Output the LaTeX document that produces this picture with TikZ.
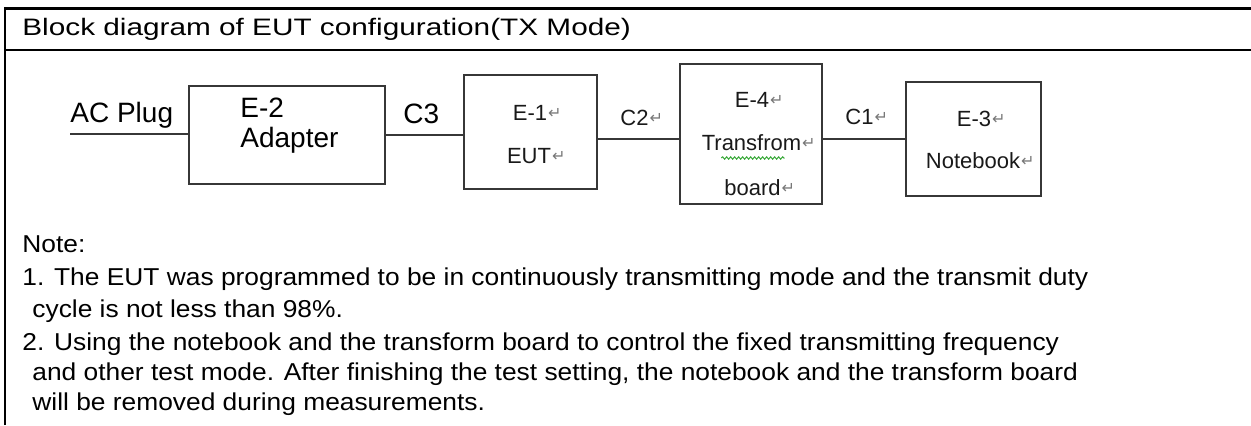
\documentclass[tikz,border=0pt]{standalone}
\usepackage{fontspec}
\setmainfont{Liberation Sans}
\newfontfamily\titlefont[FakeStretch=1.25]{Liberation Sans}
\newfontfamily\notefont[FakeStretch=1.08]{Liberation Sans}
\newfontfamily\markfont{DejaVu Sans}
\usepackage{xcolor}
\definecolor{boxline}{RGB}{55,55,55}
\definecolor{markgray}{RGB}{120,120,120}
\definecolor{squig}{RGB}{60,170,60}
\usepackage{tikz}
\usetikzlibrary{calc,positioning,decorations.pathmorphing}
\newcommand{\retmark}{\rlap{\hspace{0.5pt}\raisebox{1pt}{\markfont\fontsize{8}{8}\selectfont\textcolor{markgray}{↵}}}}
\tikzset{
  frame/.style={draw=black, line width=1.35pt},
  unit/.style={rectangle, draw=boxline, line width=0.6pt, inner sep=0pt},
  cable/.style={draw=boxline, line width=0.6pt},
  titletext/.style={inner sep=0pt, anchor=base west, font=\titlefont\fontsize{11.9}{11.9}\selectfont},
  bigtext/.style={inner sep=0pt, anchor=base west, font=\fontsize{14}{14}\selectfont},
  smalltext/.style={inner sep=0pt, anchor=base, text=black!90, font=\fontsize{11}{11}\selectfont},
  notetext/.style={inner sep=0pt, anchor=base west, font=\notefont\fontsize{12.2}{12.2}\selectfont},
  squiggle/.style={draw=squig, line width=0.5pt, decorate, decoration={snake, segment length=2pt, amplitude=0.6pt}},
}
\begin{document}
\begin{tikzpicture}[x=0.5pt, y=-0.5pt]
  \useasboundingbox (0,0) rectangle (1251,425);
  % frame and header
  \draw[frame] (5,425) -- (5,8.5) -- (1251,8.5);
  \draw[frame] (5,50) -- (1251,50);
  \node[titletext] (title) at (22,35) {Block diagram of EUT configuration(TX Mode)};
  % units
  \node[unit, minimum width=98pt, minimum height=49pt] (adapter) at (287,135) {};
  \node[unit, minimum width=66.5pt, minimum height=57pt] (eut) at (530.5,132) {};
  \node[unit, minimum width=71pt, minimum height=70pt] (board) at (751,134) {};
  \node[unit, minimum width=67.5pt, minimum height=57pt] (notebook) at (973.5,139) {};
  % cables
  \coordinate (plug) at (70,134);
  \draw[cable] (plug) -- (plug -| adapter.west);
  \draw[cable] (adapter.east) -- (adapter.east -| eut.west);
  \draw[cable] (eut.east |- notebook.west) -- (board.west |- notebook.west);
  \draw[cable] (board.east |- notebook.west) -- (notebook.west);
  % labels
  \node[bigtext] (acplug) at (70,122) {AC Plug};
  \node[bigtext] (e2) at (240,117) {E-2};
  \node[bigtext] (adaptertxt) at (240,147) {Adapter};
  \node[bigtext] (c3) at (403,123) {C3};
  \node[smalltext, anchor=base west] (c2) at (620,125) {C2\retmark};
  \node[smalltext, anchor=base west] (c1) at (845,124) {C1\retmark};
  \node[smalltext] (e1) at (530,120) {E-1\retmark};
  \node[smalltext] (euttxt) at (529,163) {EUT\retmark};
  \node[smalltext] (e4) at (752,107) {E-4\retmark};
  \node[smalltext] (tf) at (751.5,150) {Transfrom\retmark};
  \node[smalltext] (boardtxt) at (752.5,195) {board\retmark};
  \node[smalltext] (e3) at (974,126) {E-3\retmark};
  \node[smalltext] (nbtxt) at (973,168) {Notebook\retmark};
  \draw[squiggle] ([shift={(10pt,-4pt)}]tf.base west) -- ([shift={(-8.5pt,-4pt)}]tf.base east);
  % notes
  \node[notetext] (n0) at (22,252) {Note:};
  \node[notetext] (n1) at (22,285) {1. The EUT was programmed to be in continuously transmitting mode and the transmit duty};
  \node[notetext] (n2) at (32,317) {cycle is not less than 98\%.};
  \node[notetext] (n3) at (22,350) {2. Using the notebook and the transform board to control the fixed transmitting frequency};
  \node[notetext] (n4) at (32,380) {and other test mode. After finishing the test setting, the notebook and the transform board};
  \node[notetext] (n5) at (32,410) {will be removed during measurements.};
\end{tikzpicture}
\end{document}
